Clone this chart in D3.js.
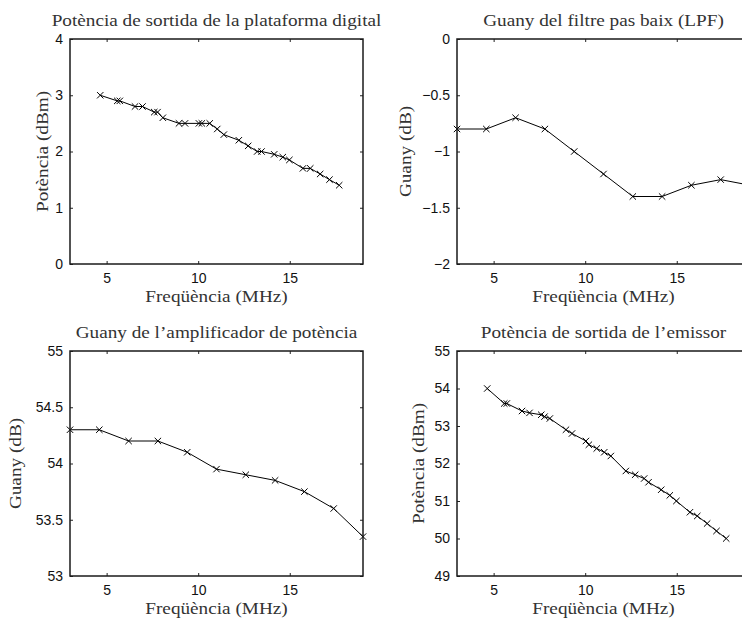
<!DOCTYPE html>
<html>
<head>
<meta charset="utf-8">
<script src="https://cdn.jsdelivr.net/npm/d3@7"></script>
<style>
  body { margin: 0; background: #fff; }
  svg { display: block; }
</style>
</head>
<body>
<div id="chart"></div>
<script>
// Dades llegides de les mesures (MHz, dBm, dB)

// freqüències de mesura de la plataforma digital i de l'emissor
const freqEmissor = [4.65, 5.58, 5.72, 6.55, 6.96, 7.6, 7.78, 8.07, 8.95, 9.28,
  10.04, 10.2, 10.63, 11.04, 11.4, 12.22, 12.73, 13.22, 13.46, 14.15,
  14.62, 14.98, 15.72, 16.12, 16.66, 17.17, 17.7];
const potPlataforma = [3.0, 2.9, 2.9, 2.8, 2.8, 2.7, 2.7, 2.6, 2.5, 2.5,
  2.5, 2.5, 2.5, 2.4, 2.3, 2.2, 2.1, 2.0, 2.0, 1.95,
  1.9, 1.85, 1.7, 1.7, 1.6, 1.5, 1.4];
const potEmissor = [54.0, 53.6, 53.6, 53.4, 53.35, 53.3, 53.25, 53.2, 52.9, 52.8,
  52.6, 52.5, 52.4, 52.3, 52.2, 51.8, 51.7, 51.6, 51.5, 51.3,
  51.15, 51.0, 50.7, 50.6, 50.4, 50.2, 50.0];

// freqüències de mesura del filtre i de l'amplificador
const freqFiltre = [3, 4.6, 6.2, 7.8, 9.4, 11, 12.6, 14.2, 15.8, 17.4, 19];
const guanyLPF = [-0.8, -0.8, -0.7, -0.8, -1.0, -1.2, -1.4, -1.4, -1.3, -1.25, -1.3];
const guanyAmp = [54.3, 54.3, 54.2, 54.2, 54.1, 53.95, 53.9, 53.85, 53.75, 53.6, 53.35];

const xDomain = [3, 19];
const xTicks = [5, 10, 15];
const yTicksPlataforma = [0, 1, 2, 3, 4];
const yTicksLPF = [-2, -1.5, -1, -0.5, 0];
const yTicksAmp = [53, 53.5, 54, 54.5, 55];
const yTicksEmissor = [49, 50, 51, 52, 53, 54, 55];

const titles = [
  "Potència de sortida de la plataforma digital",
  "Guany del filtre pas baix (LPF)",
  "Guany de l\u2019amplificador de potència",
  "Potència de sortida de l\u2019emissor"
];
const yLabels = ["Potència (dBm)", "Guany (dB)", "Guany (dB)", "Potència (dBm)"];
const xLabel = "Freqüència (MHz)";

// Disposició dels quatre eixos
const width = 742, height = 618;
const plotW = 293, plotH = 225;
const lefts = [70, 457], tops = [39, 351];

const panels = [
  { x: freqEmissor, y: potPlataforma, yTicks: yTicksPlataforma, labelOffset: 28, col: 0, row: 0 },
  { x: freqFiltre,  y: guanyLPF,      yTicks: yTicksLPF,        labelOffset: 52, col: 1, row: 0 },
  { x: freqFiltre,  y: guanyAmp,      yTicks: yTicksAmp,        labelOffset: 55, col: 0, row: 1 },
  { x: freqEmissor, y: potEmissor,    yTicks: yTicksEmissor,    labelOffset: 39, col: 1, row: 1 }
];

const serif = "'Liberation Serif', 'Times New Roman', serif";
const sans = "'Liberation Sans', Arial, sans-serif";
const fmt = d3.format("~g");
const stretch = 1.13; // la lletra LaTeX és més ampla que la Times

const svg = d3.select("#chart")
  .append("svg")
  .attr("width", width)
  .attr("height", height);

// text serif eixamplat per acostar-se a Computer Modern
function serifText(sel) {
  sel.attr("text-anchor", "middle")
    .attr("fill", "#333")
    .style("font-family", serif)
    .style("font-size", "17px");
  sel.each(function () {
    const w = this.getComputedTextLength();
    d3.select(this)
      .attr("textLength", w * stretch)
      .attr("lengthAdjust", "spacingAndGlyphs");
  });
  return sel;
}

panels.forEach((p, i) => {
  const left = lefts[p.col], top = tops[p.row];
  const g = svg.append("g")
    .attr("class", "panel")
    .attr("transform", `translate(${left},${top})`);

  const x = d3.scaleLinear().domain(xDomain).range([0, plotW]);
  const y = d3.scaleLinear().domain(d3.extent(p.yTicks)).range([plotH, 0]);

  // eixos amb marques cap a dins (estil MATLAB)
  g.append("g")
    .attr("transform", `translate(0,${plotH})`)
    .call(d3.axisBottom(x).tickValues(xTicks).tickSize(-3).tickSizeOuter(0).tickPadding(9).tickFormat(fmt));
  g.append("g")
    .call(d3.axisTop(x).tickValues(xTicks).tickSize(-3).tickSizeOuter(0).tickFormat(""));
  g.append("g")
    .call(d3.axisLeft(y).tickValues(p.yTicks).tickSize(-3).tickSizeOuter(0).tickPadding(7).tickFormat(fmt));
  g.append("g")
    .attr("transform", `translate(${plotW},0)`)
    .call(d3.axisRight(y).tickValues(p.yTicks).tickSize(-3).tickSizeOuter(0).tickFormat(""));

  g.selectAll(".domain").remove();
  g.selectAll(".tick line").attr("stroke", "#222");
  g.selectAll(".tick text")
    .attr("fill", "#111")
    .style("font-family", sans)
    .style("font-size", "14px");

  // línia i marques
  const pts = p.x.map((d, k) => [d, p.y[k]]);
  const line = d3.line().x(d => x(d[0])).y(d => y(d[1]));

  g.append("path")
    .datum(pts)
    .attr("fill", "none")
    .attr("stroke", "#000")
    .attr("stroke-width", 1)
    .attr("d", line);

  const s = 3.2;
  g.selectAll(".marker")
    .data(pts)
    .enter()
    .append("path")
    .attr("class", "marker")
    .attr("fill", "none")
    .attr("stroke", "#000")
    .attr("stroke-width", 1)
    .attr("d", d => {
      const cx = x(d[0]), cy = y(d[1]);
      return `M${cx - s},${cy - s}L${cx + s},${cy + s}M${cx - s},${cy + s}L${cx + s},${cy - s}`;
    });

  // marc
  g.append("rect")
    .attr("width", plotW)
    .attr("height", plotH)
    .attr("fill", "none")
    .attr("stroke", "#1a1a1a")
    .attr("stroke-width", 1.5);

  // textos
  g.append("text")
    .attr("x", plotW / 2)
    .attr("y", -13)
    .text(titles[i])
    .call(serifText);

  g.append("text")
    .attr("x", plotW / 2)
    .attr("y", plotH + 38)
    .text(xLabel)
    .call(serifText);

  g.append("text")
    .attr("transform", `translate(${-p.labelOffset},${plotH / 2}) rotate(-90)`)
    .attr("dominant-baseline", "central")
    .text(yLabels[i])
    .call(serifText);
});
</script>
</body>
</html>
